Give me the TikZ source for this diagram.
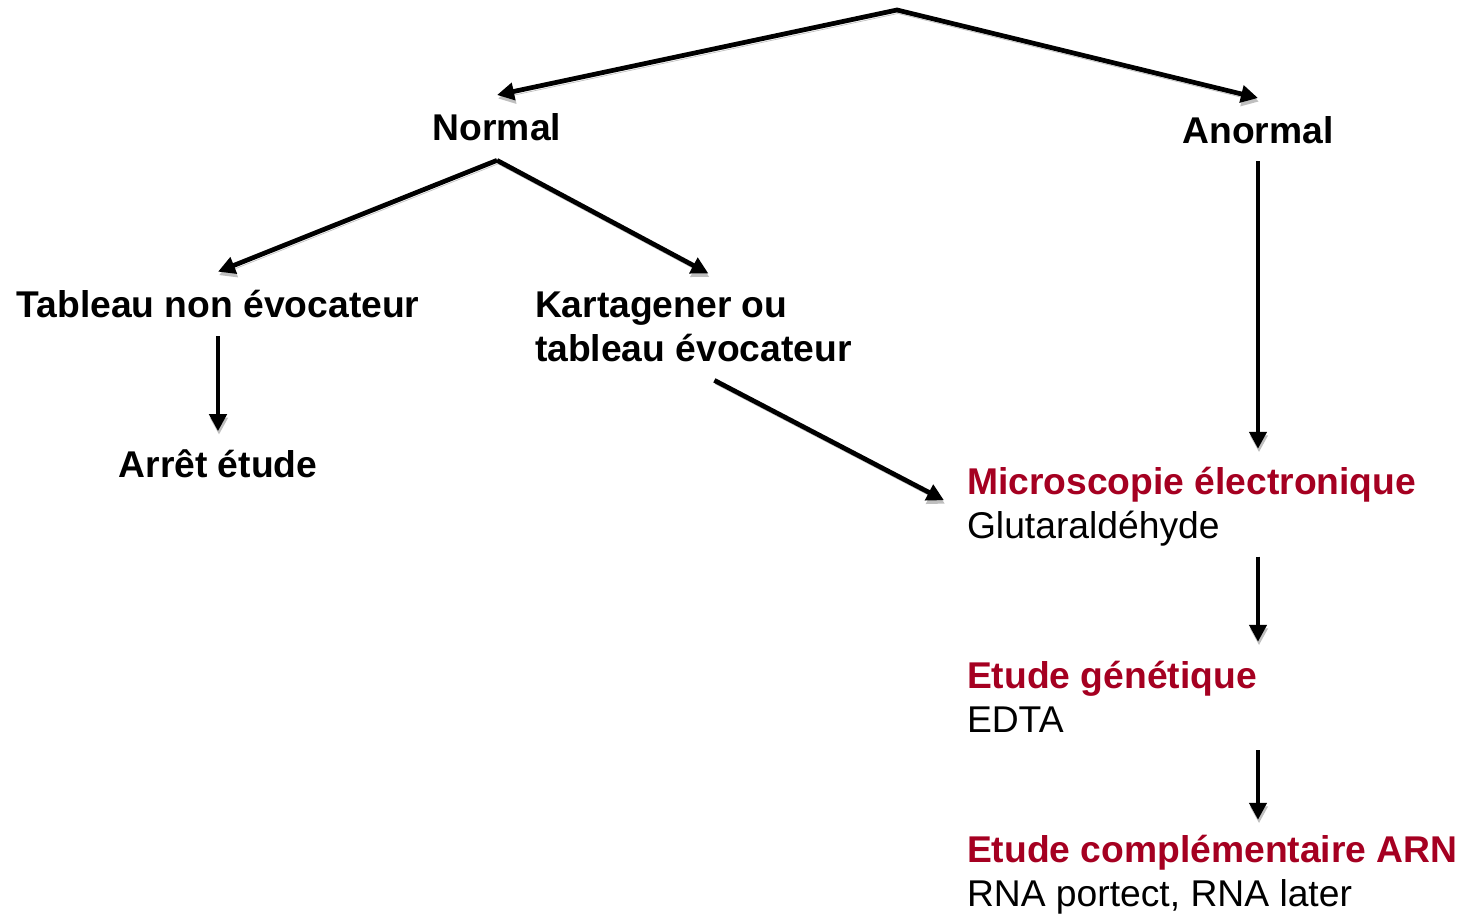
\documentclass[tikz,border=0pt]{standalone}
\usepackage{fontspec}
\setmainfont{Liberation Sans}
\usetikzlibrary{arrows.meta,calc}
\definecolor{darkred}{RGB}{165,0,33}

\begin{document}
\begin{tikzpicture}[x=0.02cm, y=-0.02cm,
  lbl/.style={inner sep=0pt, outer sep=0pt, font=\fontsize{21.2}{25}\selectfont\bfseries, anchor=base},
  box/.style={inner sep=0pt, outer sep=0pt, font=\fontsize{21.2}{25}\selectfont, anchor=base west, align=left},
  tip/.style={Triangle[length=0.34cm,width=0.34cm]},
  arr/.style={line width=0.095cm, -{Triangle[length=0.34cm,width=0.34cm]},
    preaction={draw=gray!50, transform canvas={xshift=0.02cm,yshift=-0.07cm}}}
]
  \useasboundingbox (0,0) rectangle (1467,916);

  %%% top of the tree
  \coordinate (apex) at (897,10);
  \node[lbl] (normal) at (497,140) {Normal};
  \node[lbl] (anormal) at (1258,143) {Anormal};

  %%% left branch
  \node[lbl] (nonevoc) at (218,317) {Tableau non évocateur};
  \node[box, font=\fontsize{21.2}{25}\selectfont\bfseries] (kart) at (535,361) {Kartagener ou\\tableau évocateur};
  \node[lbl] (arret) at (218,477) {Arrêt étude};

  %%% right column (base = last line)
  \node[box] (micro) at (967,538) {\textcolor{darkred}{\textbf{Microscopie électronique}}\\Glutaraldéhyde};
  \node[box] (genet) at (967,732) {\textcolor{darkred}{\textbf{Etude génétique}}\\EDTA};
  \node[box] (arn) at (967,906) {\textcolor{darkred}{\textbf{Etude complémentaire ARN}}\\RNA portect, RNA later};

  %%% arrows
  \draw[arr, {Triangle[length=0.34cm,width=0.34cm]}-{Triangle[length=0.34cm,width=0.34cm]}]
    ([yshift=0.36cm]normal.north) -- (apex) -- ([yshift=0.36cm]anormal.north);
  \draw[arr] ([yshift=-0.4cm]normal.south) -- ([yshift=0.36cm]nonevoc.north);
  \draw[arr] ([yshift=-0.4cm]normal.south) -- ([shift={(0.3cm,0.36cm)}]kart.north);
  \draw[arr] ([yshift=-0.38cm]nonevoc.south) -- ([yshift=0.36cm]arret.north);
  \draw[arr] ([shift={(0.42cm,-0.38cm)}]kart.south) -- ([shift={(-0.46cm,0.12cm)}]micro.west);
  \draw[arr] ([yshift=-0.36cm]anormal.south) -- ($(micro.north -| anormal)+(0,0.36cm)$);
  \draw[arr] ($(micro.south -| anormal)+(0,-0.22cm)$) -- ($(genet.north -| anormal)+(0,0.38cm)$);
  \draw[arr] ($(genet.south -| anormal)+(0,-0.36cm)$) -- ($(arn.north -| anormal)+(0,0.3cm)$);
\end{tikzpicture}
\end{document}
